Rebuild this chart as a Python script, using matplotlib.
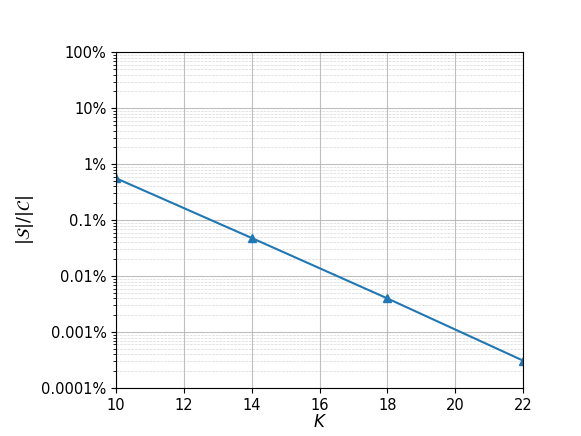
import numpy as np
import matplotlib.pyplot as plt
from matplotlib.ticker import FuncFormatter

K = [10, 14, 18, 22]
ratio = [5.6e-3, 4.8e-4, 4.0e-5, 3.1e-6]

fig = plt.figure(figsize=(581/100, 436/100), dpi=100)
ax = fig.add_subplot(111)
fig.subplots_adjust(left=0.2, right=0.9, top=0.88, bottom=0.11)

ax.plot(K, ratio, marker='^', color='tab:blue')
ax.set_yscale('log')
ax.set_xlim(10, 22)
ax.set_ylim(1e-6, 1)


def pct(v, pos):
    s = '%g' % (v*100)
    if 'e' in s:
        s = np.format_float_positional(v*100, trim='-')
    return s + '%'


ax.yaxis.set_major_formatter(FuncFormatter(pct))
ax.tick_params(labelsize=10.5)
ax.grid(True, which='major', color='#b0b0b0', lw=0.8, alpha=0.8)
ax.grid(True, which='minor', ls='--', color='#b0b0b0', lw=0.5, alpha=0.5)
ax.set_xlabel('$K$', fontsize=12, labelpad=0)
ax.set_ylabel(r'$|\mathcal{S}|/|\mathcal{C}|$', fontsize=12.5)
plt.savefig('out.png', dpi=100)
